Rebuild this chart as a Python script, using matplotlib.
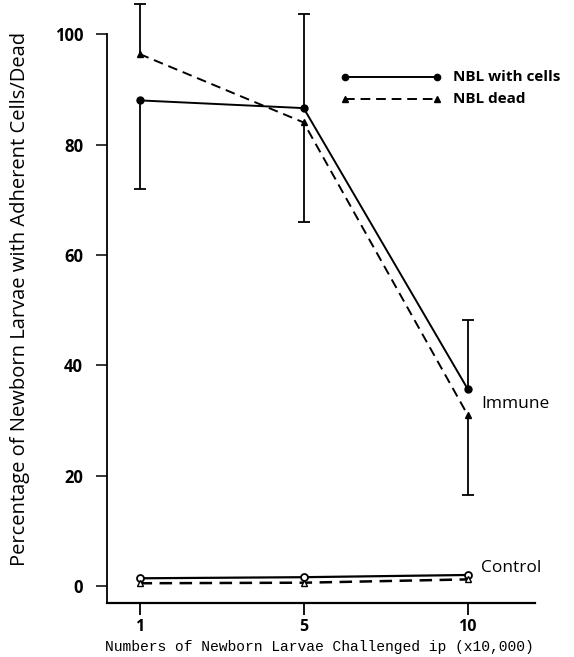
import matplotlib.pyplot as plt
import numpy as np

# x categories (x10,000 larvae)
doses = ["1", "5", "10"]

# Immune group, percent
immune_cells = [88.0, 86.6, 35.7]
immune_dead = [96.4, 84.0, 31.0]
# one-sided error bars (lower, upper)
cells_err_lo = [16.0, 0.0, 0.0]
cells_err_hi = [0.0, 17.0, 12.5]
dead_err_lo = [0.0, 18.0, 14.5]
dead_err_hi = [9.0, 0.0, 0.0]

# Control group, percent
control_cells = [1.4, 1.6, 2.0]
control_dead = [0.5, 0.6, 1.2]

yticks = [0, 20, 40, 60, 80, 100]


def one_sided_err(ax, xs, ys, lo, hi):
    ''' vertical error bars, only on the sides that have a value '''
    for xi, yi, l, h in zip(xs, ys, lo, hi):
        for d in (-l, h):
            if d == 0:
                continue
            ax.vlines(xi, yi, yi + d, color="black", lw=1.3, clip_on=False)
            ax.plot([xi], [yi + d], marker="_", ms=8, mew=1.3,
                    color="black", clip_on=False)


fig = plt.figure(figsize=(5.74, 6.57), dpi=100)
ax = fig.add_axes([0.186, 0.082, 0.746, 0.866])
x = np.arange(len(doses))

# Immune
one_sided_err(ax, x, immune_cells, cells_err_lo, cells_err_hi)
one_sided_err(ax, x, immune_dead, dead_err_lo, dead_err_hi)
ax.plot(x, immune_cells, color="black", lw=1.4, marker="o", ms=5,
        clip_on=False)
ax.plot(x, immune_dead, color="black", lw=1.4, ls="--", dashes=(5, 3),
        marker="^", ms=4.5, clip_on=False)

# Control
ax.plot(x, control_cells, color="black", lw=1.6, marker="o", ms=5,
        mfc="white", mew=1.3, clip_on=False)
ax.plot(x, control_dead, color="black", lw=1.8, ls="--", dashes=(5, 3),
        marker="^", ms=4, mfc="white", mew=1.0, clip_on=False)

ax.text(2.08, 33, "Immune", fontsize=12.5, family="Open Sans", va="center")
ax.text(2.08, 3.3, "Control", fontsize=12.5, family="Open Sans",
        va="center")

# hand-drawn legend in data coords
ax.plot([1.25, 1.81], [92.3, 92.3], color="black", lw=1.4, marker="o", ms=4.5,
        clip_on=False)
ax.plot([1.25, 1.81], [88.2, 88.2], color="black", lw=1.4, ls="--",
        dashes=(5, 3), marker="^", ms=4, clip_on=False)
ax.text(1.91, 92.3, "NBL with cells", fontsize=11, family="Open Sans",
        weight="bold", va="center")
ax.text(1.91, 88.2, "NBL dead", fontsize=11, family="Open Sans",
        weight="bold", va="center")

ax.set_xlim(-0.2, 2.41)
ax.set_ylim(-3.1, 100)
ax.set_xticks(x)
ax.set_xticklabels(doses, family="Open Sans", weight="bold", fontsize=11.5)
ax.set_yticks(yticks)
ax.set_yticklabels([str(v) for v in yticks], family="Open Sans",
                   weight="bold", fontsize=12)
ax.tick_params(axis="x", direction="out", length=8.5, width=1.3, pad=3)
ax.tick_params(axis="y", direction="out", length=8, width=1.1, pad=9)

for side in ["top", "right"]:
    ax.spines[side].set_visible(False)
ax.spines["left"].set_linewidth(1.3)
ax.spines["bottom"].set_linewidth(1.6)

fig.text(0.557, 0.004, "Numbers of Newborn Larvae Challenged ip (x10,000)",
         family="Liberation Mono", fontsize=10.5, ha="center", va="bottom")
fig.text(0.035, 0.545, "Percentage of Newborn Larvae with Adherent Cells/Dead",
         family="Open Sans", fontsize=14.5, rotation=90, ha="center",
         va="center")

fig.savefig("out.png", dpi=100)
